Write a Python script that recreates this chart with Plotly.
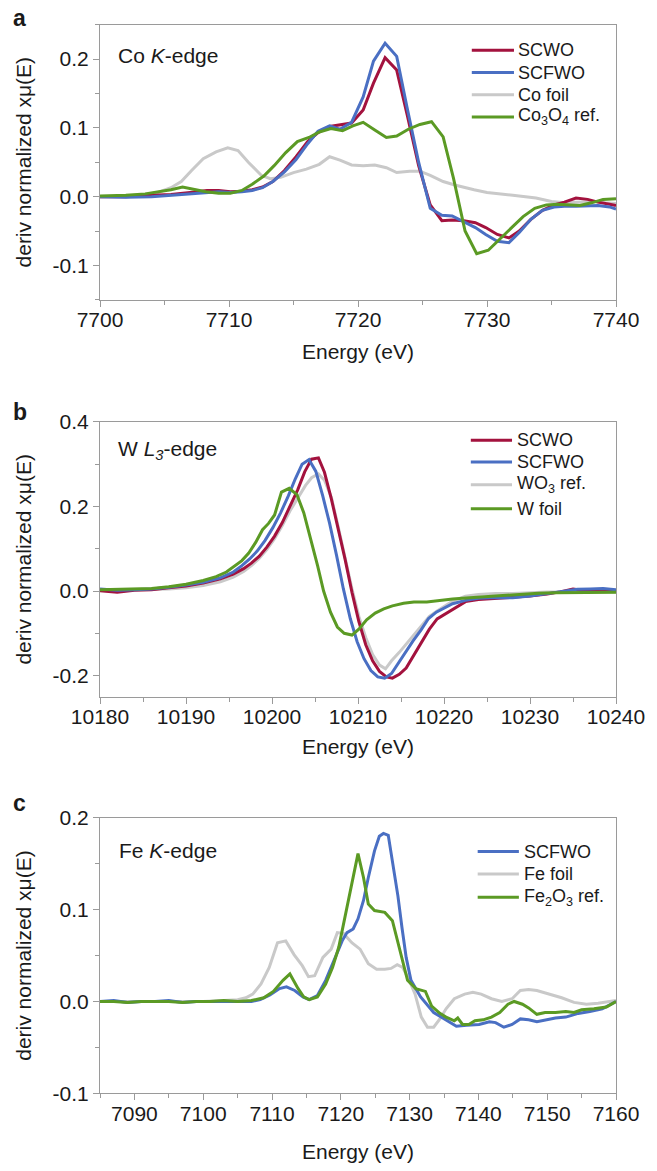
import plotly.graph_objects as go

# ---------------- data: Co K-edge ----------------
co_scwo_e = [7700, 7702, 7704, 7705.5, 7707, 7708.3, 7709.2, 7710.1, 7711, 7711.8, 7712.6, 7713.4,
             7714.3, 7715.2, 7716.1, 7716.9, 7717.8, 7718.6, 7719.5, 7720.4, 7721.2, 7722.1, 7723.0,
             7723.8, 7724.7, 7725.6, 7726.5, 7727.3, 7728.2, 7729.1, 7729.9, 7730.8, 7731.7, 7732.5,
             7733.4, 7734.3, 7735.2, 7736.0, 7736.9, 7737.8, 7738.6, 7739.5, 7740]
co_scwo = [0.000, 0.000, 0.002, 0.003, 0.006, 0.009, 0.009, 0.007, 0.008, 0.010, 0.014, 0.022,
           0.038, 0.058, 0.080, 0.093, 0.102, 0.104, 0.107, 0.126, 0.165, 0.202, 0.184,
           0.120, 0.045, -0.012, -0.035, -0.034, -0.035, -0.038, -0.045, -0.055, -0.060, -0.050,
           -0.033, -0.020, -0.012, -0.008, -0.002, -0.004, -0.008, -0.011, -0.013]
co_scfwo = [0.000, -0.001, 0.000, 0.002, 0.004, 0.006, 0.007, 0.006, 0.007, 0.009, 0.013, 0.022,
            0.036, 0.054, 0.077, 0.095, 0.103, 0.098, 0.108, 0.145, 0.197, 0.223, 0.204,
            0.130, 0.050, -0.017, -0.027, -0.028, -0.036, -0.045, -0.055, -0.065, -0.067, -0.052,
            -0.033, -0.020, -0.015, -0.014, -0.014, -0.013, -0.013, -0.015, -0.018]

co_foil_e = [7700, 7702, 7703.5, 7704.5, 7705.5, 7706.3, 7707.1, 7708, 7709, 7709.9, 7710.7, 7711.5,
             7712.5, 7713.2, 7714, 7715, 7716, 7717, 7717.8, 7718.6, 7719.5, 7720.4, 7721.3, 7722.2,
             7723.0, 7724, 7724.8, 7725.6, 7726.6, 7727.5, 7729, 7730, 7732, 7733.8, 7735, 7736,
             7737, 7738.3, 7739.2, 7740]
co_foil = [0.000, 0.001, 0.003, 0.006, 0.013, 0.022, 0.038, 0.055, 0.065, 0.071, 0.067, 0.050,
           0.031, 0.026, 0.028, 0.035, 0.040, 0.047, 0.058, 0.053, 0.046, 0.045, 0.046, 0.042,
           0.035, 0.037, 0.037, 0.031, 0.022, 0.017, 0.010, 0.006, 0.002, -0.002, -0.007, -0.009,
           -0.008, -0.007, -0.009, -0.010]

co3o4_e = [7700, 7702, 7703.5, 7704.5, 7705.5, 7706.4, 7707.3, 7708.2, 7709.2, 7710.1, 7711, 7711.8,
           7712.7, 7713.5, 7714.4, 7715.3, 7716.2, 7717, 7717.9, 7718.8, 7719.6, 7720.4, 7721.3,
           7722.2, 7723.0, 7723.9, 7724.8, 7725.7, 7726.6, 7727.4, 7728.3, 7729.2, 7730.1, 7731.0,
           7731.9, 7732.8, 7733.7, 7734.6, 7735.5, 7736.4, 7737.2, 7738.1, 7739, 7740]
co3o4 = [0.001, 0.002, 0.004, 0.007, 0.010, 0.014, 0.011, 0.007, 0.005, 0.005, 0.009, 0.018,
         0.030, 0.045, 0.064, 0.080, 0.086, 0.094, 0.099, 0.096, 0.103, 0.108, 0.097,
         0.086, 0.088, 0.098, 0.105, 0.109, 0.087, 0.027, -0.050, -0.083, -0.078, -0.062,
         -0.046, -0.029, -0.017, -0.012, -0.011, -0.012, -0.013, -0.009, -0.004, -0.003]

# ---------------- data: W L3-edge ----------------
w_scwo_e = [10180, 10182, 10184, 10186, 10188, 10190, 10192, 10194, 10195.5, 10196.7, 10197.6,
            10198.5, 10199.4, 10200.3, 10201.2, 10202.1, 10203.0, 10203.8, 10204.6, 10205.4,
            10206.1, 10206.9, 10207.7, 10208.5, 10209.3, 10210.1, 10210.9, 10211.7, 10212.5,
            10213.3, 10214.0, 10214.8, 10215.6, 10216.5, 10217.4, 10218.3, 10219.2, 10220.1,
            10221, 10222.5, 10224, 10226, 10228, 10230, 10232, 10233.5, 10235, 10236.5, 10238, 10240]
w_scwo = [0.001, -0.003, 0.002, 0.003, 0.008, 0.012, 0.019, 0.029, 0.040, 0.053, 0.066,
          0.082, 0.104, 0.130, 0.162, 0.200, 0.240, 0.282, 0.312, 0.315,
          0.281, 0.218, 0.148, 0.075, -0.003, -0.072, -0.127, -0.165, -0.190,
          -0.203, -0.206, -0.197, -0.182, -0.152, -0.120, -0.090, -0.066, -0.055,
          -0.042, -0.025, -0.020, -0.017, -0.015, -0.012, -0.007, -0.002, 0.005, 0.001, 0.003, 0.001]

w_scfwo_e = [10180, 10182, 10184, 10186, 10188, 10190, 10192, 10194, 10195.5, 10196.5, 10197.4,
             10198.3, 10199.2, 10200.1, 10201.0, 10201.9, 10202.7, 10203.5, 10204.3, 10205.1,
             10205.9, 10206.7, 10207.5, 10208.3, 10209.1, 10209.9, 10210.7, 10211.5, 10212.3,
             10213.1, 10213.9, 10214.7, 10215.5, 10216.4, 10217.3, 10218.2, 10219.1, 10220,
             10221, 10222.5, 10224, 10226, 10228, 10230, 10232, 10234, 10235.5, 10237, 10238.5, 10240]
w_scfwo = [0.005, 0.002, 0.003, 0.005, 0.009, 0.014, 0.021, 0.031, 0.045, 0.060, 0.076,
           0.095, 0.120, 0.150, 0.185, 0.225, 0.265, 0.300, 0.311, 0.283,
           0.225, 0.160, 0.085, 0.005, -0.065, -0.120, -0.160, -0.188, -0.203,
           -0.206, -0.195, -0.170, -0.143, -0.118, -0.093, -0.065, -0.050, -0.040,
           -0.030, -0.022, -0.017, -0.015, -0.016, -0.012, -0.006, 0.001, 0.004, 0.005, 0.006, 0.003]

wo3_e = [10180, 10184, 10188, 10190, 10192, 10194, 10195.5, 10196.7, 10197.6, 10198.5, 10199.4,
         10200.3, 10201.2, 10202.1, 10203.0, 10203.9, 10204.6, 10205.4, 10206.1, 10206.9, 10207.7,
         10208.5, 10209.3, 10210.1, 10210.9, 10211.7, 10212.5, 10213.2, 10213.9, 10214.8, 10215.6,
         10216.5, 10217.4, 10218.3, 10219.2, 10220.1, 10221, 10222.5, 10224, 10226, 10228, 10230,
         10232, 10234, 10236, 10238, 10240]
wo3 = [0.002, 0.003, 0.005, 0.008, 0.013, 0.022, 0.033, 0.046, 0.060, 0.077, 0.098,
       0.124, 0.155, 0.190, 0.220, 0.250, 0.268, 0.277, 0.262, 0.222, 0.152,
       0.078, 0.005, -0.060, -0.110, -0.150, -0.175, -0.184, -0.165, -0.145, -0.125,
       -0.103, -0.080, -0.060, -0.047, -0.035, -0.024, -0.012, -0.008, -0.006, -0.006, -0.004,
       -0.002, -0.002, -0.001, -0.001, -0.002]

w_foil_e = [10180, 10183, 10186, 10188, 10190, 10192, 10193.5, 10194.7, 10195.6, 10196.5, 10197.3,
            10198.1, 10198.9, 10199.6, 10200.3, 10201.1, 10202.0, 10202.9, 10203.7, 10204.5,
            10205.3, 10206.0, 10206.8, 10207.6, 10208.4, 10209.3, 10210.1, 10211.0, 10212, 10213,
            10214, 10215.3, 10216.5, 10218, 10219.5, 10221, 10223, 10225, 10227, 10229, 10231,
            10233, 10235, 10237.5, 10240]
w_foil = [0.003, 0.004, 0.006, 0.010, 0.016, 0.025, 0.034, 0.045, 0.058, 0.072, 0.090,
          0.115, 0.145, 0.160, 0.180, 0.234, 0.243, 0.228, 0.185, 0.125,
          0.060, 0.000, -0.050, -0.085, -0.100, -0.104, -0.090, -0.068, -0.052, -0.042,
          -0.035, -0.029, -0.026, -0.026, -0.022, -0.019, -0.016, -0.013, -0.010, -0.007, -0.005,
          -0.004, -0.004, -0.003, -0.003]

# ---------------- data: Fe K-edge ----------------
fe_scfwo_e = [7085, 7087, 7089, 7091, 7093, 7095, 7097, 7099, 7101, 7103, 7105, 7107, 7108.3,
              7109.7, 7111.1, 7112.1, 7113.3, 7114.5, 7115.4, 7116.6, 7117.8, 7119.2, 7120.2,
              7120.9, 7121.8, 7122.5, 7123.3, 7124.0, 7124.9, 7125.6, 7126.2, 7126.9, 7127.6,
              7128.3, 7128.9, 7129.5, 7130.2, 7131.6, 7133.5, 7134.9, 7136.8, 7138.3, 7140.1,
              7141.6, 7142.5, 7143.7, 7144.9, 7146.1, 7147.3, 7148.5, 7149.7, 7151.2, 7152.7,
              7154.5, 7156.2, 7158, 7160]
fe_scfwo = [0.000, 0.001, -0.001, 0.000, 0.000, 0.001, -0.001, 0.000, 0.000, 0.000, 0.000, 0.000, 0.002,
            0.007, 0.014, 0.016, 0.012, 0.005, 0.002, 0.0065, 0.023, 0.048, 0.066,
            0.075, 0.079, 0.090, 0.110, 0.135, 0.164, 0.180, 0.183, 0.181, 0.150,
            0.115, 0.080, 0.048, 0.023, 0.005, -0.012, -0.018, -0.027, -0.026, -0.025,
            -0.022, -0.023, -0.028, -0.025, -0.019, -0.020, -0.022, -0.020, -0.018, -0.017,
            -0.013, -0.011, -0.008, 0.000]

fe_foil_e = [7085, 7088, 7091, 7094, 7097, 7100, 7103, 7105, 7106.2, 7107.2, 7108.4, 7109.6, 7110.8,
             7112, 7113.2, 7114.4, 7115.3, 7116.2, 7117.4, 7118.6, 7119.5, 7120.4, 7121.6, 7122.8,
             7124, 7125.2, 7126.4, 7127.3, 7128.2, 7129, 7129.9, 7130.8, 7131.7, 7132.6, 7133.5,
             7134.4, 7135.3, 7136.5, 7138, 7139.2, 7140.4, 7141.9, 7143.4, 7144.9, 7146.1, 7147.3,
             7148.5, 7150.3, 7152.1, 7153.9, 7155.7, 7157.4, 7158.9, 7160]
fe_foil = [0.000, 0.000, 0.000, 0.000, 0.000, 0.000, 0.001, 0.002, 0.004, 0.008, 0.019, 0.037, 0.064,
           0.066, 0.051, 0.039, 0.027, 0.028, 0.048, 0.057, 0.075, 0.074, 0.064, 0.057,
           0.041, 0.035, 0.035, 0.036, 0.040, 0.037, 0.024, 0.008, -0.017, -0.028, -0.028,
           -0.019, -0.008, 0.003, 0.008, 0.010, 0.008, 0.003, 0.000, 0.003, 0.012, 0.013,
           0.012, 0.008, 0.004, -0.001, -0.003, -0.002, 0.000, 0.001]

fe2o3_e = [7085, 7087, 7089, 7091, 7093, 7095, 7097, 7099, 7101, 7103, 7105, 7107, 7108.8, 7110.2,
           7111.6, 7112.6, 7113.8, 7114.6, 7115.4, 7116.6, 7117.8, 7118.8, 7119.7, 7120.6, 7121.6,
           7122.5, 7123.3, 7124.0, 7124.9, 7126.4, 7127.5, 7128.7, 7129.7, 7130.9, 7132.3, 7133.2,
           7134.4, 7135.3, 7136.5, 7137.0, 7137.7, 7138.6, 7139.5, 7140.7, 7141.9, 7143.1, 7144.3,
           7145.2, 7146.4, 7147.3, 7148.5, 7149.7, 7151.2, 7152.7, 7153.9, 7155, 7156.8, 7158.6, 7160]
fe2o3 = [0.000, 0.000, -0.001, 0.000, 0.000, 0.000, -0.001, 0.000, 0.000, 0.001, 0.000, 0.001, 0.004, 0.011,
         0.023, 0.030, 0.014, 0.005, 0.002, 0.005, 0.019, 0.037, 0.059, 0.092, 0.128,
         0.161, 0.135, 0.106, 0.099, 0.097, 0.088, 0.052, 0.023, 0.014, 0.011, -0.005,
         -0.013, -0.017, -0.021, -0.018, -0.025, -0.025, -0.021, -0.020, -0.017, -0.012, -0.003,
         0.000, -0.003, -0.007, -0.014, -0.012, -0.012, -0.011, -0.012, -0.009, -0.008, -0.006, 0.000]

# ---------------- tick labels ----------------
co_xticks = [7700, 7710, 7720, 7730, 7740]
co_yticks = [-0.1, 0.0, 0.1, 0.2]
co_yticktext = ["-0.1", "0.0", "0.1", "0.2"]
w_xticks = [10180, 10190, 10200, 10210, 10220, 10230, 10240]
w_yticks = [-0.2, 0.0, 0.2, 0.4]
w_yticktext = ["-0.2", "0.0", "0.2", "0.4"]
fe_xticks = [7090, 7100, 7110, 7120, 7130, 7140, 7150, 7160]
fe_yticks = [-0.1, 0.0, 0.1, 0.2]
fe_yticktext = ["-0.1", "0.0", "0.1", "0.2"]

X_TITLE = "Energy (eV)"
Y_TITLE = "deriv normalized xμ(E)"

# ---------------- styling ----------------
RED = "#A3123E"
BLUE = "#4A6FC3"
GRAY = "#C9C9C9"
GREEN = "#5B9A24"
AXIS = "#9A9A9A"
TXT = "#1A1A1A"
FONT = "Liberation Sans, Arial, sans-serif"
LW = 3

W, H = 657, 1171
ML, MR, MT, MB = 100, 31, 22, 77
PW = W - ML - MR
PH = H - MT - MB


def fx(x):
    return (x - ML) / PW


def fy(y):
    return (H - MB - y) / PH


fig = go.Figure()

panels = [
    ("x", "y", [
        (co_foil_e, co_foil, GRAY, "Co foil"),
        (co_scwo_e, co_scwo, RED, "SCWO"),
        (co_scwo_e, co_scfwo, BLUE, "SCFWO"),
        (co3o4_e, co3o4, GREEN, "Co3O4 ref."),
    ]),
    ("x2", "y2", [
        (wo3_e, wo3, GRAY, "WO3 ref."),
        (w_scwo_e, w_scwo, RED, "SCWO"),
        (w_scfwo_e, w_scfwo, BLUE, "SCFWO"),
        (w_foil_e, w_foil, GREEN, "W foil"),
    ]),
    ("x3", "y3", [
        (fe_foil_e, fe_foil, GRAY, "Fe foil"),
        (fe_scfwo_e, fe_scfwo, BLUE, "SCFWO"),
        (fe2o3_e, fe2o3, GREEN, "Fe2O3 ref."),
    ]),
]

for xa, ya, series in panels:
    for xs, ys, col, name in series:
        fig.add_trace(go.Scatter(
            x=xs, y=ys, mode="lines", name=name, xaxis=xa, yaxis=ya,
            line=dict(color=col, width=LW), showlegend=False,
        ))

tickfont = dict(family=FONT, size=21, color=TXT)
titlefont = dict(family=FONT, size=21, color=TXT)


def xaxis_cfg(rng, tickvals, anchor, minor0, standoff):
    return dict(
        range=rng, domain=[0, 1], anchor=anchor,
        tickmode="array", tickvals=tickvals, ticktext=[str(v) for v in tickvals],
        ticks="outside", ticklen=6, tickwidth=1, tickcolor=AXIS,
        ticklabelstandoff=-5,
        minor=dict(tickmode="linear", tick0=minor0, dtick=5, ticks="outside",
                   ticklen=4, tickwidth=1, tickcolor=AXIS),
        showline=True, linecolor=AXIS, linewidth=1.2, mirror=True,
        showgrid=False, zeroline=False, tickfont=tickfont,
        title=dict(text=X_TITLE, font=titlefont, standoff=standoff),
    )


def yaxis_cfg(rng, tickvals, ticktext, dom, anchor, minor_dt):
    return dict(
        range=rng, domain=dom, anchor=anchor,
        tickmode="array", tickvals=tickvals, ticktext=ticktext,
        ticks="outside", ticklen=6, tickwidth=1, tickcolor=AXIS,
        minor=dict(tickmode="linear", tick0=0, dtick=minor_dt, ticks="outside",
                   ticklen=4, tickwidth=1, tickcolor=AXIS),
        showline=True, linecolor=AXIS, linewidth=1.2, mirror=True,
        showgrid=False, zeroline=False, tickfont=tickfont,
        title=dict(text=Y_TITLE, font=titlefont, standoff=15),
    )


fig.update_layout(
    width=W, height=H,
    margin=dict(l=ML, r=MR, t=MT, b=MB, pad=0),
    paper_bgcolor="white", plot_bgcolor="white",
    showlegend=False,
    xaxis=xaxis_cfg([7700, 7740], co_xticks, "y", 7700, 14),
    yaxis=yaxis_cfg([-0.15, 0.25], co_yticks, co_yticktext, [fy(298.3), fy(22.7)], "x", 0.05),
    xaxis2=xaxis_cfg([10180, 10240], w_xticks, "y2", 10180, 12),
    yaxis2=yaxis_cfg([-0.25, 0.4], w_yticks, w_yticktext, [fy(696), fy(420.7)], "x2", 0.1),
    xaxis3=xaxis_cfg([7085, 7160], fe_xticks, "y3", 7085, 20),
    yaxis3=yaxis_cfg([-0.1, 0.2], fe_yticks, fe_yticktext, [max(0, fy(1093.3)), fy(817.3)], "x3", 0.05),
)

ann = []


def text(x, y, s, size=21, xanchor="left", bold=False, angle=0):
    ann.append(dict(
        x=fx(x), y=fy(y), xref="paper", yref="paper", text=("<b>%s</b>" % s) if bold else s,
        showarrow=False, xanchor=xanchor, yanchor="middle", textangle=angle,
        font=dict(family=FONT, size=size, color=TXT),
    ))


# panel letters
text(9, 16, "a", size=23, bold=True)
text(9, 411, "b", size=23, bold=True)
text(9, 802, "c", size=23, bold=True)

# edge labels
text(116, 54, "Co <i>K</i>-edge")
text(116, 449, "W <i>L</i><sub><i>3</i></sub>-edge")
text(117, 850, "Fe <i>K</i>-edge")

# hand-placed legends
shapes = []


def legend(x0, x1, tx, rows):
    for y, col, label in rows:
        shapes.append(dict(type="line", xref="paper", yref="paper",
                           x0=fx(x0), x1=fx(x1), y0=fy(y), y1=fy(y),
                           line=dict(color=col, width=LW)))
        text(tx, y, label, size=18)


legend(479, 522, 524, [
    (48.3, RED, "SCWO"),
    (70.7, BLUE, "SCFWO"),
    (92.8, GRAY, "Co foil"),
    (115.1, GREEN, "Co<sub>3</sub>O<sub>4</sub> ref."),
])
legend(478, 520, 523, [
    (439.1, RED, "SCWO"),
    (460.9, BLUE, "SCFWO"),
    (483.6, GRAY, "WO<sub>3</sub> ref."),
    (507.7, GREEN, "W foil"),
])
legend(485, 527, 530, [
    (851.1, BLUE, "SCFWO"),
    (873.6, GRAY, "Fe foil"),
    (896.8, GREEN, "Fe<sub>2</sub>O<sub>3</sub> ref."),
])

fig.update_layout(annotations=ann, shapes=shapes)

fig.write_html("out.html")
